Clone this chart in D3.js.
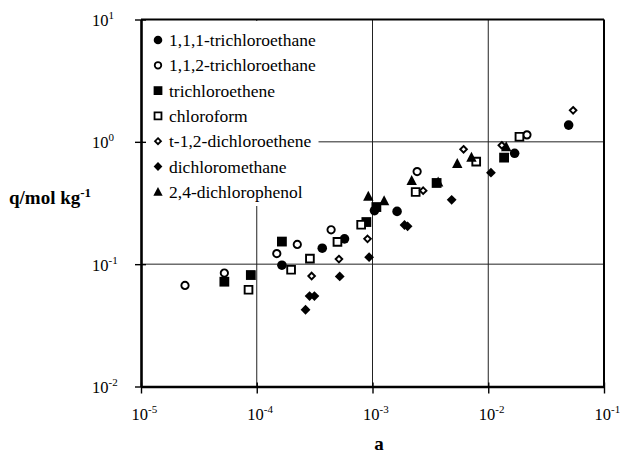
<!DOCTYPE html>
<html>
<head>
<meta charset="utf-8">
<script src="https://cdn.jsdelivr.net/npm/d3@7"></script>
<style>
  html, body { margin: 0; padding: 0; background: #fff; }
  svg { display: block; }
</style>
</head>
<body>
<svg id="chart" width="621" height="453"></svg>
<script>
// Adsorption isotherm data: relative activity a vs. loading q (mol/kg)
const seriesNames = [
  "1,1,1-trichloroethane",
  "1,1,2-trichloroethane",
  "trichloroethene",
  "chloroform",
  "t-1,2-dichloroethene",
  "dichloromethane",
  "2,4-dichlorophenol"
];

const tca111A = [1.65e-4, 3.68e-4, 5.73e-4, 1.04e-3, 1.63e-3, 0.0169, 0.0495];
const tca111Q = [0.098, 0.135, 0.161, 0.274, 0.270, 0.806, 1.37];

const tca112A = [2.40e-5, 5.25e-5, 1.49e-4, 2.24e-4, 4.39e-4, 2.43e-3, 0.0216];
const tca112Q = [0.067, 0.0846, 0.122, 0.145, 0.191, 0.571, 1.14];

const tceA = [5.25e-5, 8.89e-5, 1.65e-4, 8.85e-4, 1.08e-3, 3.58e-3, 0.0137];
const tceQ = [0.0719, 0.0815, 0.153, 0.221, 0.293, 0.461, 0.743];

const chloroformA = [8.49e-5, 1.98e-4, 2.88e-4, 4.98e-4, 7.98e-4, 2.36e-3, 7.87e-3, 0.0186];
const chloroformQ = [0.0618, 0.0901, 0.111, 0.152, 0.210, 0.389, 0.689, 1.10];

const tdceA = [2.98e-4, 5.13e-4, 9.06e-4, 2.74e-3, 6.12e-3, 0.0131, 0.0541];
const tdceQ = [0.080, 0.110, 0.161, 0.399, 0.869, 0.937, 1.81];

const dcmA = [2.64e-4, 2.86e-4, 3.15e-4, 5.21e-4, 9.35e-4, 1.89e-3, 2.01e-3, 4.83e-3, 0.01055];
const dcmQ = [0.0424, 0.0548, 0.0548, 0.0794, 0.114, 0.209, 0.204, 0.336, 0.560];

const dcpA = [9.2e-4, 1.26e-3, 2.18e-3, 3.69e-3, 5.40e-3, 7.16e-3, 0.0143];
const dcpQ = [0.359, 0.330, 0.482, 0.47, 0.664, 0.748, 0.912];

const xTickValues = [1e-5, 1e-4, 1e-3, 1e-2, 1e-1];
const xTickExponents = ["-5", "-4", "-3", "-2", "-1"];
const yTickValues = [1e-2, 1e-1, 1, 10];
const yTickExponents = ["-2", "-1", "0", "1"];

const SERIF = "'Liberation Serif', 'Times New Roman', Times, serif";

// ---- marker shapes ----
const diamondType = {
  draw(ctx, size) {
    const r = Math.sqrt(size / 2);
    ctx.moveTo(0, -r); ctx.lineTo(r, 0); ctx.lineTo(0, r); ctx.lineTo(-r, 0); ctx.closePath();
  }
};
const triangleType = {
  draw(ctx, size) {
    const h = Math.sqrt(size);
    ctx.moveTo(0, -h * 0.55); ctx.lineTo(h * 0.52, h * 0.45); ctx.lineTo(-h * 0.52, h * 0.45); ctx.closePath();
  }
};

const styles = [
  { type: d3.symbolCircle, size: 72, fill: "#000", stroke: "none", sw: 0 },
  { type: d3.symbolCircle, size: 42, fill: "#fff", stroke: "#000", sw: 1.9 },
  { type: d3.symbolSquare, size: 96, fill: "#000", stroke: "none", sw: 0 },
  { type: d3.symbolSquare, size: 60, fill: "#fff", stroke: "#000", sw: 1.9 },
  { type: diamondType, size: 22, fill: "#fff", stroke: "#000", sw: 1.9 },
  { type: diamondType, size: 48, fill: "#000", stroke: "none", sw: 0 },
  { type: triangleType, size: 100, fill: "#000", stroke: "none", sw: 0 }
];

const seriesA = [tca111A, tca112A, tceA, chloroformA, tdceA, dcmA, dcpA];
const seriesQ = [tca111Q, tca112Q, tceQ, chloroformQ, tdceQ, dcmQ, dcpQ];
const drawOrder = [0, 2, 1, 3, 4, 5, 6];

const svg = d3.select("#chart").attr("font-family", SERIF);
const plotLeft = 141, plotRight = 604, plotTop = 19.5, plotBottom = 386.5;

const x = d3.scaleLog().domain([1e-5, 1e-1]).range([plotLeft, plotRight]);
const y = d3.scaleLog().domain([1e-2, 10]).range([plotBottom, plotTop]);

// gridlines at each decade
const grid = svg.append("g");
grid.selectAll("line.gx").data(xTickValues.slice(1, -1)).join("line")
  .attr("x1", d => x(d)).attr("x2", d => x(d))
  .attr("y1", plotTop).attr("y2", plotBottom)
  .attr("stroke", "#222").attr("stroke-width", 1);
grid.selectAll("line.gy").data(yTickValues.slice(1, -1)).join("line")
  .attr("x1", plotLeft).attr("x2", plotRight)
  .attr("y1", d => y(d)).attr("y2", d => y(d))
  .attr("stroke", "#222").attr("stroke-width", 1);

// legend background masks the grid behind it
svg.append("rect").attr("x", plotLeft + 1.5).attr("y", plotTop + 1.5)
  .attr("width", 176).attr("height", 185).attr("fill", "#fff");

// frame: top and right borders
svg.append("line").attr("x1", plotLeft).attr("x2", plotRight).attr("y1", plotTop).attr("y2", plotTop)
  .attr("stroke", "#000").attr("stroke-width", 2);
svg.append("line").attr("x1", plotRight).attr("x2", plotRight).attr("y1", plotTop).attr("y2", plotBottom)
  .attr("stroke", "#000").attr("stroke-width", 2);

function expLabel(sel, exps) {
  sel.each(function(d, i) {
    const t = d3.select(this);
    t.text(null);
    t.append("tspan").text("10");
    t.append("tspan").attr("dy", -7).attr("font-size", 11).text(exps[i]);
  });
}

// x axis
const gx = svg.append("g").attr("transform", `translate(0,${plotBottom})`)
  .call(d3.axisBottom(x).tickValues(xTickValues).tickSizeOuter(0).tickSizeInner(7).tickPadding(25).tickFormat(() => ""));
gx.attr("font-family", SERIF);
gx.select(".domain").attr("stroke-width", 2.6);
gx.selectAll(".tick line").attr("y1", -4).attr("stroke-width", 1.4);
gx.selectAll(".tick text")
  .attr("font-size", 16.5).attr("fill", "#000").attr("text-anchor", "start")
  .attr("x", -10).attr("dy", 0).attr("y", 33)
  .call(expLabel, xTickExponents);

// y axis
const gy = svg.append("g").attr("transform", `translate(${plotLeft},0)`)
  .call(d3.axisLeft(y).tickValues(yTickValues).tickSizeOuter(0).tickSizeInner(6).tickFormat(() => ""));
gy.attr("font-family", SERIF);
gy.select(".domain").attr("stroke-width", 2.6);
gy.selectAll(".tick line").attr("x2", 5).attr("x1", -6).attr("stroke-width", 1.4);
gy.selectAll(".tick text")
  .attr("font-size", 16.5).attr("fill", "#000").attr("text-anchor", "start")
  .attr("x", -49).attr("dy", 6)
  .call(expLabel, yTickExponents);

// data points
const sym = d3.symbol();
drawOrder.forEach(si => {
  const st = styles[si];
  const pts = seriesA[si].map((a, i) => ({ a, q: seriesQ[si][i] }));
  svg.append("g").selectAll("path").data(pts).join("path")
    .attr("transform", d => `translate(${x(d.a)},${y(d.q)})`)
    .attr("d", sym.type(st.type).size(st.size)())
    .attr("fill", st.fill).attr("stroke", st.stroke).attr("stroke-width", st.sw);
});

// legend
const legend = svg.append("g");
seriesNames.forEach((name, i) => {
  const st = styles[i];
  const ly = 40 + i * 25.3;
  legend.append("path")
    .attr("transform", `translate(158,${ly})`)
    .attr("d", d3.symbol().type(st.type).size(st.size * 0.8)())
    .attr("fill", st.fill).attr("stroke", st.stroke).attr("stroke-width", st.sw * 0.95);
  legend.append("text").attr("x", 169).attr("y", ly + 6)
    .attr("font-size", 17.5).attr("fill", "#000").text(name);
});

// axis titles
const yt = svg.append("text").attr("x", 9).attr("y", 204)
  .attr("font-size", 19).attr("font-weight", "bold").attr("fill", "#000");
yt.append("tspan").text("q/mol kg");
yt.append("tspan").attr("dy", -7).attr("font-size", 13).text("-1");

svg.append("text").attr("x", 379).attr("y", 450).attr("text-anchor", "middle")
  .attr("font-size", 19).attr("font-weight", "bold").attr("fill", "#000").text("a");
</script>
</body>
</html>
